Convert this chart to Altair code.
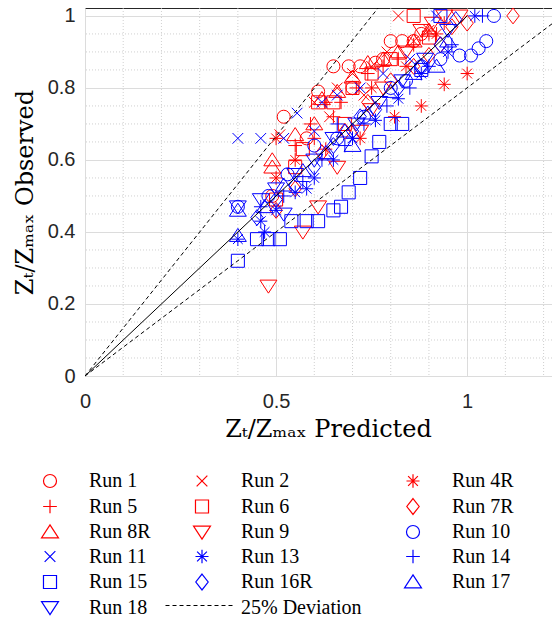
import altair as alt
import pandas as pd

# ---------------- data ----------------
run1_x = [0.49, 0.52, 0.58, 0.61, 0.65, 0.69, 0.70, 0.72, 0.76, 0.78, 0.80, 0.83, 0.86, 0.88]
run1_y = [0.50, 0.72, 0.66, 0.79, 0.86, 0.86, 0.80, 0.86, 0.87, 0.88, 0.93, 0.93, 0.93, 0.95]
run2_x = [0.51, 0.60, 0.64, 0.66, 0.70, 0.73, 0.75, 0.79, 0.82, 0.86, 0.90]
run2_y = [0.67, 0.76, 0.72, 0.80, 0.84, 0.78, 0.86, 0.90, 1.00, 0.93, 0.96]
run4r_x = [0.50, 0.50, 0.55, 0.63, 0.72, 0.75, 0.81, 0.84, 0.88, 0.92, 0.94, 1.00]
run4r_y = [0.55, 0.66, 0.60, 0.63, 0.66, 0.80, 0.72, 0.86, 0.75, 0.95, 0.81, 0.84]
run5_x = [0.55, 0.59, 0.60, 0.63, 0.65, 0.67, 0.71, 0.74, 0.78, 0.82, 0.86, 0.90, 0.94]
run5_y = [0.64, 0.70, 0.66, 0.76, 0.72, 0.76, 0.80, 0.84, 0.86, 0.88, 0.92, 0.95, 0.98]
run6_x = [0.50, 0.55, 0.57, 0.61, 0.65, 0.68, 0.70, 0.75, 0.80, 0.86, 0.90]
run6_y = [0.49, 0.58, 0.63, 0.76, 0.76, 0.70, 0.80, 0.84, 0.88, 1.00, 0.94]
run7r_x = [0.50, 0.55, 0.62, 0.68, 0.74, 0.80, 0.86, 0.90, 0.93, 0.96, 1.00, 1.12]
run7r_y = [0.46, 0.52, 0.62, 0.68, 0.76, 0.82, 0.86, 0.89, 0.92, 0.97, 0.98, 1.00]
run8r_x = [0.49, 0.49, 0.55, 0.60, 0.62, 0.66, 0.70, 0.74, 0.78, 0.82, 0.86, 0.90]
run8r_y = [0.58, 0.60, 0.67, 0.70, 0.77, 0.79, 0.83, 0.87, 0.88, 0.90, 0.93, 0.96]
run9_x = [0.48, 0.57, 0.61, 0.66, 0.72, 0.75, 0.78, 0.84, 0.88, 0.91, 0.94, 0.98]
run9_y = [0.25, 0.40, 0.47, 0.58, 0.68, 0.74, 0.80, 0.90, 0.96, 0.98, 1.00, 1.00]
run10_x = [0.40, 0.48, 0.53, 0.60, 0.66, 0.73, 0.80, 0.84, 0.88, 0.93, 0.98, 1.01, 1.03, 1.05, 1.07]
run10_y = [0.47, 0.50, 0.56, 0.64, 0.66, 0.72, 0.80, 0.82, 0.86, 0.88, 0.89, 0.89, 0.91, 0.93, 1.00]
run11_x = [0.40, 0.46, 0.52, 0.555, 0.60, 0.62, 0.66, 0.72, 0.78, 0.85, 0.92]
run11_y = [0.66, 0.66, 0.66, 0.73, 0.68, 0.76, 0.78, 0.80, 0.84, 0.88, 1.00]
run13_x = [0.40, 0.46, 0.47, 0.50, 0.55, 0.58, 0.60, 0.65, 0.70, 0.76, 0.82, 0.88, 0.95, 1.02]
run13_y = [0.38, 0.43, 0.40, 0.46, 0.51, 0.52, 0.55, 0.60, 0.66, 0.71, 0.77, 0.84, 0.90, 1.00]
run14_x = [0.46, 0.52, 0.57, 0.62, 0.66, 0.68, 0.73, 0.79, 0.85, 0.90, 0.96, 1.04]
run14_y = [0.47, 0.50, 0.54, 0.60, 0.70, 0.64, 0.70, 0.75, 0.80, 0.86, 0.92, 1.00]
run15_x = [0.40, 0.45, 0.48, 0.51, 0.54, 0.58, 0.61, 0.65, 0.67, 0.69, 0.72, 0.75, 0.77, 0.80, 0.83, 0.88, 0.93]
run15_y = [0.32, 0.38, 0.38, 0.38, 0.43, 0.43, 0.43, 0.46, 0.47, 0.51, 0.55, 0.61, 0.65, 0.70, 0.70, 0.85, 1.00]
run16r_x = [0.45, 0.50, 0.55, 0.60, 0.65, 0.70, 0.72, 0.76, 0.82, 0.88, 0.93, 0.97]
run16r_y = [0.44, 0.49, 0.53, 0.58, 0.64, 0.68, 0.72, 0.74, 0.80, 0.86, 0.92, 0.99]
run17_x = [0.40, 0.40, 0.47, 0.52, 0.57, 0.63, 0.68, 0.70, 0.74, 0.80, 0.86, 0.92, 0.95]
run17_y = [0.39, 0.46, 0.47, 0.53, 0.57, 0.62, 0.68, 0.64, 0.73, 0.79, 0.84, 0.86, 0.93]
run18_x = [0.40, 0.46, 0.50, 0.52, 0.55, 0.60, 0.65, 0.71, 0.77, 0.83, 0.89, 0.95]
run18_y = [0.47, 0.49, 0.52, 0.45, 0.56, 0.60, 0.66, 0.70, 0.76, 0.82, 0.88, 0.96]

run_names = ["Run 1", "Run 2", "Run 4R", "Run 5", "Run 6", "Run 7R", "Run 8R", "Run 9",
             "Run 10", "Run 11", "Run 13", "Run 14", "Run 15", "Run 16R", "Run 17", "Run 18"]
run_xs = [run1_x, run2_x, run4r_x, run5_x, run6_x, run7r_x, run8r_x, run9_x,
          run10_x, run11_x, run13_x, run14_x, run15_x, run16r_x, run17_x, run18_x]
run_ys = [run1_y, run2_y, run4r_y, run5_y, run6_y, run7r_y, run8r_y, run9_y,
          run10_y, run11_y, run13_y, run14_y, run15_y, run16r_y, run17_y, run18_y]
deviation_label = "25% Deviation"

# reference lines: identity and +/-25% deviation lines (end points)
identity_x = [0.0, 1.0]
identity_y = [0.0, 1.0]
upper_x = [0.0, 0.767]
upper_y = [0.0, 1.022]
lower_x = [0.0, 1.222]
lower_y = [0.0, 0.978]

x_major = [0, 0.5, 1]
x_minor = [0.1, 0.2, 0.3, 0.4, 0.6, 0.7, 0.8, 0.9, 1.1, 1.2]
y_major = [0, 0.2, 0.4, 0.6, 0.8, 1.0]
y_minor = [0.05, 0.1, 0.15, 0.25, 0.3, 0.35, 0.45, 0.5, 0.55, 0.65, 0.7, 0.75,
           0.85, 0.9, 0.95]

# ---------------- styles ----------------
RED = "#ff0000"
BLUE = "#0000ff"
P_PLUS = "M-1.05,0L1.05,0M0,-1.05L0,1.05"
P_X = "M-0.82,-0.82L0.82,0.82M-0.82,0.82L0.82,-0.82"
P_AST = "M-1,0L1,0M0,-1.05L0,1.05M-0.75,-0.75L0.75,0.75M-0.75,0.75L0.75,-0.75"
P_TUP = "M0,-1.1L1.3,0.9L-1.3,0.9Z"
P_TDN = "M0,1.1L1.3,-0.9L-1.3,-0.9Z"
P_DIA = "M0,-1.22L0.95,0L0,1.22L-0.95,0Z"
P_NONE = "M0,0L0.01,0"

run_color = dict(zip(run_names, [RED] * 8 + [BLUE] * 8))
run_shape = dict(zip(run_names, ["circle", P_X, P_AST, P_PLUS, "square", P_DIA, P_TUP, P_TDN] * 2))
run_color[deviation_label] = "#ffffff"
run_shape[deviation_label] = P_NONE

# legend entry order (filled column by column, three columns)
legend_domain = ["Run 1", "Run 5", "Run 8R", "Run 11", "Run 15", "Run 18",
                 "Run 2", "Run 6", "Run 9", "Run 13", "Run 16R", deviation_label,
                 "Run 4R", "Run 7R", "Run 10", "Run 14", "Run 17"]
legend_colors = [run_color[k] for k in legend_domain]
legend_shapes = [run_shape[k] for k in legend_domain]

rows = []
for name, xs, ys in zip(run_names, run_xs, run_ys):
    for xv, yv in zip(xs, ys):
        rows.append({"run": name, "x": xv, "y": yv})
pts_df = pd.DataFrame(rows)

lines_rows = []
for lid, xs, ys in [("identity", identity_x, identity_y),
                    ("upper", upper_x, upper_y), ("lower", lower_x, lower_y)]:
    for i, (xv, yv) in enumerate(zip(xs, ys)):
        lines_rows.append({"line": lid, "x": xv, "y": yv, "o": i, "dev": deviation_label})
lines_df = pd.DataFrame(lines_rows)

xscale = alt.Scale(domain=[0, 1.222], nice=False, zero=False)
yscale = alt.Scale(domain=[0, 1.022], nice=False, zero=False)
xaxis = alt.Axis(values=x_major, format="~g", title="Zₜ/Zₘₐₓ Predicted",
                 grid=True, ticks=False, domain=False, labelFlush=False,
                 labelPadding=15, titlePadding=6, titleX=243)
yaxis = alt.Axis(values=y_major, format="~g", title="Zₜ/Zₘₐₓ Observed",
                 grid=True, ticks=False, domain=False, labelFlush=False,
                 labelPadding=10, titlePadding=10)

leg = alt.Legend(orient="none", legendX=-45, legendY=463, columns=3, title=None,
                 symbolSize=170, symbolStrokeWidth=1.2, labelFont="Liberation Serif",
                 labelFontSize=20, labelColor="#000000", labelOffset=29,
                 columnPadding=40, rowPadding=4.5, padding=0, labelLimit=300)

dash_leg = alt.Legend(orient="none", legendX=80, legendY=562, title=None,
                      symbolType="stroke", symbolSize=4900, symbolStrokeWidth=1,
                      symbolStrokeColor="#000000", labelExpr="''", padding=0)

minor_x = alt.Chart(pd.DataFrame({"gx": x_minor})).mark_rule(
    color="#c4c4c4", strokeDash=[1, 2], strokeWidth=0.8
).encode(x=alt.X("gx:Q", scale=xscale, axis=xaxis))

minor_y = alt.Chart(pd.DataFrame({"gy": y_minor})).mark_rule(
    color="#c4c4c4", strokeDash=[1, 2], strokeWidth=0.8
).encode(y=alt.Y("gy:Q", scale=yscale, axis=yaxis))

points = alt.Chart(pts_df).mark_point(filled=False, size=170, strokeWidth=1, clip=True,
                                      opacity=1).encode(
    x=alt.X("x:Q", scale=xscale, axis=xaxis),
    y=alt.Y("y:Q", scale=yscale, axis=yaxis),
    color=alt.Color("run:N", scale=alt.Scale(domain=legend_domain, range=legend_colors), legend=leg),
    shape=alt.Shape("run:N", scale=alt.Scale(domain=legend_domain, range=legend_shapes), legend=leg),
)

solid = alt.Chart(lines_df[lines_df["line"] == "identity"]).mark_line(
    color="#000000", strokeWidth=1, clip=True
).encode(x=alt.X("x:Q", scale=xscale, axis=xaxis), y=alt.Y("y:Q", scale=yscale, axis=yaxis),
         order="o:Q")

dashed = alt.Chart(lines_df[lines_df["line"] != "identity"]).mark_line(
    color="#000000", strokeWidth=1, clip=True
).encode(x=alt.X("x:Q", scale=xscale, axis=xaxis), y=alt.Y("y:Q", scale=yscale, axis=yaxis),
         detail="line:N", order="o:Q",
         strokeDash=alt.StrokeDash("dev:N", scale=alt.Scale(domain=[deviation_label], range=[[4, 3]]),
                                   legend=dash_leg))

chart = alt.layer(minor_x, minor_y, points, solid, dashed).properties(
    width=467, height=368,
    autosize=alt.AutoSizeParams(type="none"),
    padding={"left": 77, "top": 0, "right": 0, "bottom": 242},
).configure_view(
    stroke="#262626", strokeWidth=1
).configure_axis(
    labelFont="Liberation Sans", labelFontSize=20, labelColor="#262626",
    titleFont="DejaVu Serif", titleFontSize=24, titleColor="#000000",
    titleFontWeight="normal", gridColor="#dcdcdc", gridWidth=1
)

chart.save("out.html", embed_options={"renderer": "svg", "actions": False})
